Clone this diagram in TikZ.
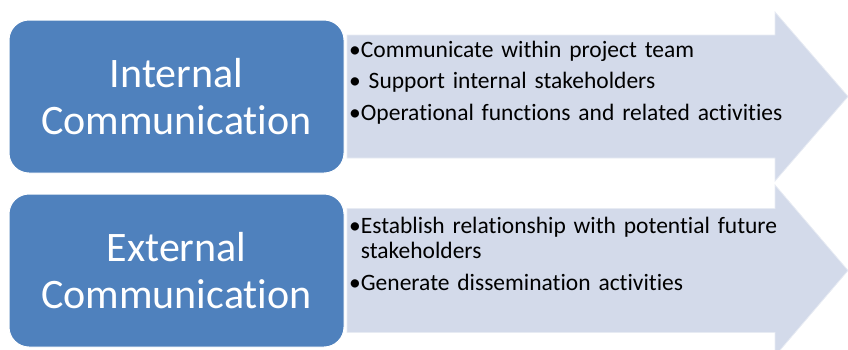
\documentclass[tikz,border=0pt]{standalone}
\usepackage{fontspec}
\setmainfont{Carlito}[Ligatures={NoCommon}]
\usepackage{xcolor}

\definecolor{boxblue}{RGB}{79,129,189}
\definecolor{arrowfill}{RGB}{211,218,234}

\newlength{\bulw}
\newcommand{\bul}{\strut•}

\begin{document}
\begin{tikzpicture}[x=1pt, y=-1pt,
    titlebox/.style={draw=white, line width=1pt, fill=boxblue, rounded corners=20pt,
      minimum width=335pt, minimum height=153pt, inner sep=0pt, text=white,
      align=center, font=\fontsize{42}{47}\selectfont},
    bullets/.style={anchor=north west, inner sep=0pt, text width=480pt, align=left,
      font=\fontsize{23.5}{25.5}\selectfont},
    bigarrow/.style={fill=arrowfill, draw=arrowfill!55!white, line width=0.8pt}]
  \useasboundingbox (0,0) rectangle (848,349);
  \clip (0,0) rectangle (848,349);

  % Arrows
  \draw[bigarrow] (347,35) -- (775,35) -- (775,12) -- (848,96.5)
     -- (775,181) -- (775,158) -- (347,158) -- cycle;
  \draw[bigarrow] (347,208.5) -- (775,208.5) -- (775,185) -- (848,270.5)
     -- (775,356) -- (775,332.5) -- (347,332.5) -- cycle;

  % Internal
  \node[titlebox] (internal) at (176.5,96.5) {Internal\\Communication};
  \node[bullets] (intlist) at (349,39) {%
    \bul Communicate within project team\\[6pt]
    \bul\ Support internal stakeholders\\[6pt]
    \bul Operational functions and related activities};

  % External
  \node[titlebox] (external) at (176.5,270.5) {External\\Communication};
  \node[bullets] (extlist) at (349,215) {%
    \settowidth{\bulw}{•}\hangindent=\bulw\hangafter=1
    \bul Establish relationship with potential future\newline stakeholders\\[6pt]
    \bul Generate dissemination activities};
\end{tikzpicture}
\end{document}
